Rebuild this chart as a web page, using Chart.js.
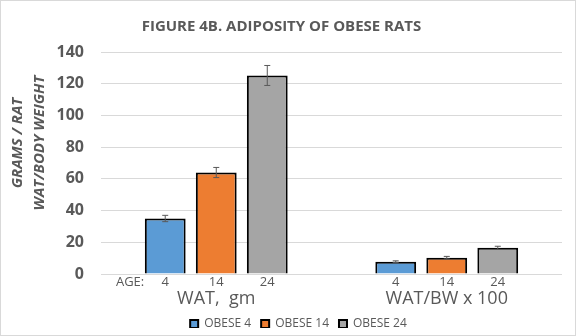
<!DOCTYPE html>
<html>
<head>
<meta charset="utf-8">
<script src="https://cdn.jsdelivr.net/npm/chart.js@4"></script>
<style>
  body { margin: 0; background: #fff; }
  #wrap { width: 574px; height: 334px; border: 1px solid #d9d9d9; background: #fff; }
</style>
</head>
<body>
<div id="wrap"><canvas id="chart" width="574" height="334"></canvas></div>
<script>
const categories = ["WAT,  gm", "WAT/BW x 100"];
const ageLabels = ["4", "14", "24"];
const seriesNames = ["OBESE 4", "OBESE 14", "OBESE 24"];
const obese4 = [35, 7.8];
const obese14 = [64, 10.3];
const obese24 = [125.2, 16.5];
const err4 = [2, 0.5];
const err14 = [3.2, 0.8];
const err24 = [6.3, 1];
const seriesColors = ["#5b9bd5", "#ed7d31", "#a5a5a5"];

const textGray = "#595959";
const font = "'Open Sans', sans-serif";

const errorBars = {
  id: "errorBars",
  afterDatasetsDraw(chart) {
    const { ctx, scales: { y } } = chart;
    const errs = [err4, err14, err24];
    ctx.save();
    ctx.strokeStyle = "#595959";
    ctx.lineWidth = 1;
    chart.data.datasets.forEach((ds, i) => {
      chart.getDatasetMeta(i).data.forEach((bar, j) => {
        const v = ds.data[j], e = errs[i][j];
        const top = y.getPixelForValue(v + e), bot = y.getPixelForValue(v - e);
        ctx.beginPath();
        ctx.moveTo(bar.x, top); ctx.lineTo(bar.x, bot);
        ctx.moveTo(bar.x - 3, top); ctx.lineTo(bar.x + 3, top);
        ctx.moveTo(bar.x - 3, bot); ctx.lineTo(bar.x + 3, bot);
        ctx.stroke();
      });
    });
    ctx.restore();
  }
};

// put the legend where the original has it
const legendShift = {
  id: "legendShift",
  afterLayout(chart) {
    const lg = chart.legend;
    const dy = 317 - (lg.top + lg.bottom) / 2;
    lg.left += 17;
    lg.right += 17;
    lg.top += dy;
    lg.bottom += dy;
  }
};

// age labels under each bar, "AGE:" before the first, and the y title
const extraText = {
  id: "extraText",
  afterDraw(chart) {
    const { ctx, chartArea } = chart;
    ctx.save();
    ctx.fillStyle = textGray;
    ctx.font = "13px " + font;
    ctx.textAlign = "center";
    ctx.textBaseline = "middle";
    const ly = chartArea.bottom + 8;
    chart.data.datasets.forEach((ds, i) => {
      chart.getDatasetMeta(i).data.forEach(bar => {
        ctx.fillText(ageLabels[i], bar.x, ly);
      });
    });
    const first = chart.getDatasetMeta(0).data[0];
    ctx.textAlign = "right";
    ctx.fillText("AGE:", first.x - 21, ly);

    ctx.font = "italic bold 15px " + font;
    ctx.textAlign = "center";
    ctx.translate(0, 142);
    ctx.rotate(-Math.PI / 2);
    ctx.fillText("GRAMS / RAT", 0, 17);
    ctx.fillText("WAT/BODY WEIGHT", 0, 39);
    ctx.restore();
  }
};

new Chart(document.getElementById("chart"), {
  type: "bar",
  data: {
    labels: categories,
    datasets: [obese4, obese14, obese24].map((d, i) => ({
      label: seriesNames[i],
      data: d,
      backgroundColor: seriesColors[i],
      borderColor: "#000",
      borderWidth: 2,
      categoryPercentage: 0.664,
      barPercentage: 0.8
    }))
  },
  options: {
    responsive: false,
    animation: false,
    layout: { padding: { left: 0, right: 13, top: 0, bottom: 0 } },
    plugins: {
      title: {
        display: true,
        text: "FIGURE 4B. ADIPOSITY OF OBESE RATS",
        color: textGray,
        font: { family: font, size: 15, weight: "bold" },
        padding: { top: 17, bottom: 16 }
      },
      legend: {
        position: "bottom",
        maxHeight: 20,
        labels: {
          color: textGray,
          font: { family: font, size: 12 },
          boxWidth: 8,
          boxHeight: 8,
          padding: 10
        }
      },
      tooltip: { enabled: false }
    },
    scales: {
      x: {
        grid: { display: false, drawTicks: false },
        border: { display: false },
        ticks: { color: textGray, font: { family: font, size: 18 }, padding: 14 },
        afterFit(scale) { scale.height = 41; }
      },
      y: {
        min: 0,
        max: 140,
        ticks: { stepSize: 20, color: textGray, font: { family: font, size: 16, weight: "bold" }, padding: 17 },
        grid: { color: "#d9d9d9", drawTicks: false },
        border: { display: false },
        afterFit(scale) { scale.width = 100; }
      }
    }
  },
  plugins: [errorBars, legendShift, extraText]
});
</script>
</body>
</html>
